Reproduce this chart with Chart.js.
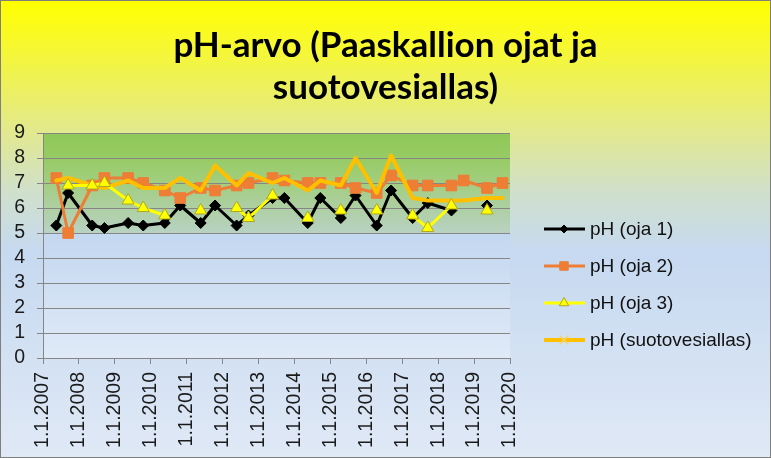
<!DOCTYPE html>
<html>
<head>
<meta charset="utf-8">
<title>pH-arvo</title>
<script src="https://cdn.jsdelivr.net/npm/chart.js@4.4.1/dist/chart.umd.min.js"></script>
<style>
  html, body { margin: 0; padding: 0; background: #dfe8f5; }
  canvas { display: block; }
</style>
</head>
<body>
<canvas id="phChart" width="771" height="458"></canvas>
<script>
// sampling dates as decimal years (spring / autumn samples)
const sampleYears = [
  2007.37, 2007.70, 2008.37, 2008.71, 2009.37, 2009.79, 2010.39, 2010.82,
  2011.39, 2011.79, 2012.39, 2012.72, 2013.39, 2013.72, 2014.37, 2014.72,
  2015.29, 2015.70, 2016.29, 2016.69, 2017.29, 2017.71, 2018.37, 2018.71,
  2019.36, 2019.79
];
const oja1 = [5.3, 6.6, 5.3, 5.2, 5.4, 5.3, 5.4, 6.1, 5.4, 6.1, 5.3, 5.7, 6.4, 6.4, 5.4, 6.4, 5.6, 6.5, 5.3, 6.7, 5.6, 6.2, 5.9, null, 6.1, null];
const oja2 = [7.2, 5.0, 6.9, 7.2, 7.2, 7.0, 6.7, 6.4, 6.8, 6.7, 6.9, 7.0, 7.2, 7.1, 7.0, 7.0, 7.0, 6.8, 6.6, 7.3, 6.9, 6.9, 6.9, 7.1, 6.8, 7.0];
const oja3 = [null, 6.9, 6.9, 7.0, 6.3, 6.0, 5.7, null, 5.9, null, 6.0, 5.6, 6.5, null, 5.6, null, 5.9, null, 5.9, null, 5.7, 5.2, 6.1, null, 5.9, null];
const suotovesiallas = [7.1, 7.2, 6.9, 6.8, 7.1, 6.8, 6.8, 7.2, 6.7, 7.7, 6.9, 7.4, 7.0, 7.2, 6.7, 7.1, 6.9, 8.0, 6.6, 8.1, 6.4, 6.3, 6.3, 6.3, 6.4, 6.4];

const seriesNames = ["pH (oja 1)", "pH (oja 2)", "pH (oja 3)", "pH (suotovesiallas)"];
const yearTicks = [2007, 2008, 2009, 2010, 2011, 2012, 2013, 2014, 2015, 2016, 2017, 2018, 2019, 2020];
const titleLines = ["pH-arvo (Paaskallion ojat ja", "suotovesiallas)"];

document.addEventListener("DOMContentLoaded", () => {
  const ctx = document.getElementById("phChart").getContext("2d");
  const toPoints = (vals) => sampleYears.map((x, i) => ({ x: x, y: vals[i] }));
  const tickFont = { family: "'Liberation Sans', Arial, sans-serif", size: 19.5 };
  const gridColor = "#868686";

  const backdrop = {
    id: "backdrop",
    beforeDraw(chart) {
      const { ctx, width, height, chartArea: a } = chart;
      const ys = chart.scales.y;
      ctx.save();
      let g = ctx.createLinearGradient(0, 0, 0, height);
      g.addColorStop(0, "#ffff00");
      g.addColorStop(0.06, "#fbfb1c");
      g.addColorStop(0.27, "#e4ea86");
      g.addColorStop(0.42, "#d0e0cc");
      g.addColorStop(0.55, "#c6d9f0");
      g.addColorStop(1, "#e0e9f6");
      ctx.fillStyle = g;
      ctx.fillRect(0, 0, width, height);

      // plot area: green band from 9 down to 5, blue below
      const top = ys.getPixelForValue(9);
      const bot = ys.getPixelForValue(0);
      const f5 = (ys.getPixelForValue(5) - top) / (bot - top);
      g = ctx.createLinearGradient(0, top, 0, bot);
      g.addColorStop(0, "#8fc957");
      g.addColorStop(f5 * 0.25, "#97cb65");
      g.addColorStop(f5 * 0.5, "#a2ce80");
      g.addColorStop(f5 * 0.75, "#aecfa3");
      g.addColorStop(f5, "#b8d2c2");
      g.addColorStop(f5 + 0.002, "#c3d7f0");
      g.addColorStop(1, "#e0eaf7");
      ctx.fillStyle = g;
      ctx.fillRect(a.left, a.top, a.right - a.left, a.bottom - a.top);

      // title
      ctx.fillStyle = "#000";
      ctx.font = "bold 35px Lato, 'Open Sans', sans-serif";
      ctx.textAlign = "center";
      ctx.textBaseline = "alphabetic";
      ctx.fillText(titleLines[0], width / 2, 57);
      ctx.fillText(titleLines[1], width / 2, 99);
      ctx.restore();
    },
    afterDraw(chart) {
      const { ctx, width, height } = chart;
      ctx.save();
      ctx.strokeStyle = "#7f7f7f";
      ctx.lineWidth = 1;
      ctx.strokeRect(0.5, 0.5, width - 1, height - 1);
      ctx.restore();
    }
  };

  const sideLegend = {
    id: "sideLegend",
    afterDraw(chart) {
      const { ctx } = chart;
      const rows = [229, 266, 303, 340];
      chart.data.datasets.forEach((ds, i) => {
        const y = rows[i];
        ctx.save();
        ctx.strokeStyle = ds.borderColor;
        ctx.lineWidth = ds.borderWidth;
        ctx.beginPath();
        ctx.moveTo(544, y);
        ctx.lineTo(585, y);
        ctx.stroke();
        if (ds.pointRadius > 0) {
          ctx.fillStyle = ds.pointBackgroundColor;
          ctx.strokeStyle = ds.pointBorderColor;
          ctx.lineWidth = ds.pointBorderWidth;
          Chart.helpers.drawPoint(ctx, {
            pointStyle: ds.pointStyle,
            radius: ds.pointRadius - 1.5,
            rotation: 0,
            borderWidth: ds.pointBorderWidth
          }, 564, y);
        } else {
          ctx.strokeStyle = "#f6d36a";
          ctx.lineWidth = 1.5;
          Chart.helpers.drawPoint(ctx, { pointStyle: "crossRot", radius: 6, rotation: 0, borderWidth: 1.5 }, 564, y);
        }
        ctx.fillStyle = "#111";
        ctx.font = "19px 'Liberation Sans', Arial, sans-serif";
        ctx.textAlign = "left";
        ctx.textBaseline = "middle";
        ctx.fillText(ds.label, 590, y + 1);
        ctx.restore();
      });
    }
  };

  new Chart(ctx, {
    type: "line",
    data: {
      datasets: [
        {
          label: seriesNames[0],
          data: toPoints(oja1),
          borderColor: "#000000",
          borderWidth: 3,
          pointStyle: "rectRot",
          pointRadius: 5.5,
          pointBackgroundColor: "#000000",
          pointBorderColor: "#000000",
          pointBorderWidth: 1,
          order: 4
        },
        {
          label: seriesNames[1],
          data: toPoints(oja2),
          borderColor: "#ee7d36",
          borderWidth: 3,
          pointStyle: "rect",
          pointRadius: 7.5,
          pointBackgroundColor: "#ee7d36",
          pointBorderColor: "#ee7d36",
          pointBorderWidth: 1,
          order: 3
        },
        {
          label: seriesNames[2],
          data: toPoints(oja3),
          borderColor: "#ffff00",
          borderWidth: 3,
          pointStyle: "triangle",
          pointRadius: 7,
          pointBackgroundColor: "#ffff00",
          pointBorderColor: "#b0a820",
          pointBorderWidth: 1,
          order: 1
        },
        {
          label: seriesNames[3],
          data: toPoints(suotovesiallas),
          borderColor: "#ffc000",
          borderWidth: 4,
          pointRadius: 0,
          order: 2
        }
      ]
    },
    options: {
      responsive: false,
      animation: false,
      spanGaps: false,
      elements: {
        line: { tension: 0, borderJoinStyle: "round", borderCapStyle: "round" }
      },
      layout: { padding: { top: 133, right: 261, bottom: 0, left: 0 } },
      plugins: {
        legend: { display: false },
        title: { display: false },
        tooltip: { enabled: false }
      },
      scales: {
        x: {
          type: "linear",
          min: 2007,
          max: 2020,
          afterBuildTicks: (s) => { s.ticks = yearTicks.map((v) => ({ value: v })); },
          afterFit: (s) => { s.height = 100; },
          ticks: {
            autoSkip: false,
            minRotation: 90,
            maxRotation: 90,
            padding: 8,
            color: "#1a1a1a",
            font: tickFont,
            callback: (v) => "1.1." + v
          },
          grid: { drawOnChartArea: false, drawTicks: true, tickLength: 6, color: gridColor },
          border: { color: gridColor }
        },
        y: {
          min: 0,
          max: 9,
          afterFit: (s) => { s.width = 43; },
          ticks: { stepSize: 1, autoSkip: false, padding: 12, color: "#1a1a1a", font: tickFont },
          grid: { color: gridColor, tickLength: 6 },
          border: { color: gridColor }
        }
      }
    },
    plugins: [backdrop, sideLegend]
  });
});
</script>
</body>
</html>
